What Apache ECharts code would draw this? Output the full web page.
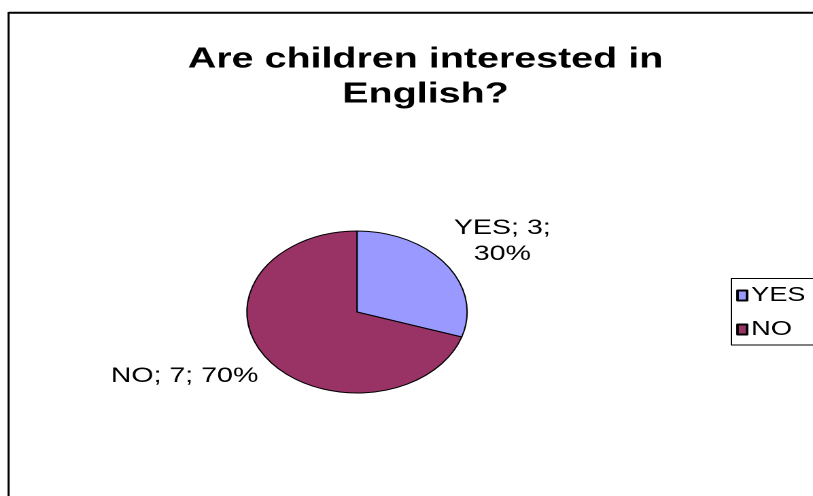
<!DOCTYPE html>
<html>
<head>
<meta charset="utf-8">
<script src="https://cdn.jsdelivr.net/npm/echarts@6/dist/echarts.min.js"></script>
<style>
  html, body { margin: 0; padding: 0; background: #fff; overflow: hidden; }
  /* the chart is laid out narrow and widened horizontally, like a stretched embedded chart */
  #chart { width: 598px; height: 496px; transform: scaleX(1.3595); transform-origin: 0 0; }
</style>
</head>
<body>
<div id="chart"></div>
<script>
const titleLines = ['Are children interested in', 'English?'];
const categories = ['YES', 'NO'];
const counts = [3, 7];
const sliceColors = ['#9999FF', '#993366'];

const FONT = '"Liberation Sans", Arial, sans-serif';

const chart = echarts.init(document.getElementById('chart'), null, { renderer: 'canvas', devicePixelRatio: 2 });

const pieData = categories.map((name, i) => ({
  name: name,
  value: counts[i],
  itemStyle: { color: sliceColors[i] }
}));

chart.setOption({
  animation: false,
  backgroundColor: '#fff',
  title: {
    text: titleLines.join('\n'),
    left: 308,
    textAlign: 'center',
    top: 37,
    textStyle: { fontFamily: FONT, fontWeight: 'bold', fontSize: 29, lineHeight: 35, color: '#000' }
  },
  legend: {
    orient: 'vertical',
    left: 538,
    top: 278.5,
    data: categories,
    icon: 'rect',
    itemWidth: 7,
    itemHeight: 10,
    itemGap: 14,
    padding: [7, 70, 5.5, 3.5],
    borderColor: '#000',
    borderWidth: 1,
    backgroundColor: '#fff',
    textStyle: { fontFamily: FONT, fontSize: 20, color: '#000', padding: [0, 0, 0, -2] },
    selectedMode: false
  },
  graphic: [
    { type: 'line', shape: { x1: 6.3, y1: 12.8, x2: 700, y2: 12.8 }, style: { stroke: '#000', lineWidth: 2 } },
    { type: 'line', shape: { x1: 6.3, y1: 12, x2: 6.3, y2: 600 }, style: { stroke: '#000', lineWidth: 1.5 } }
  ],
  series: [{
    type: 'pie',
    center: [262.6, 312],
    radius: 81,
    startAngle: 90,
    clockwise: true,
    data: pieData,
    itemStyle: { borderColor: '#000', borderWidth: 1 },
    labelLine: { show: false },
    label: {
      show: true,
      position: 'outside',
      fontFamily: FONT,
      fontSize: 21,
      lineHeight: 26,
      color: '#000',
      formatter: function (p) {
        return p.percent < 50
          ? p.name + '; ' + p.value + ';\n' + p.percent + '%'
          : p.name + '; ' + p.value + '; ' + p.percent + '%';
      }
    },
    labelLayout: function (params) {
      if (params.dataIndex === 0) {
        return { x: 369.5, y: 241, align: 'center', verticalAlign: 'middle' };
      }
      return { x: 190, y: 376, align: 'right', verticalAlign: 'middle' };
    }
  }]
});
</script>
</body>
</html>
